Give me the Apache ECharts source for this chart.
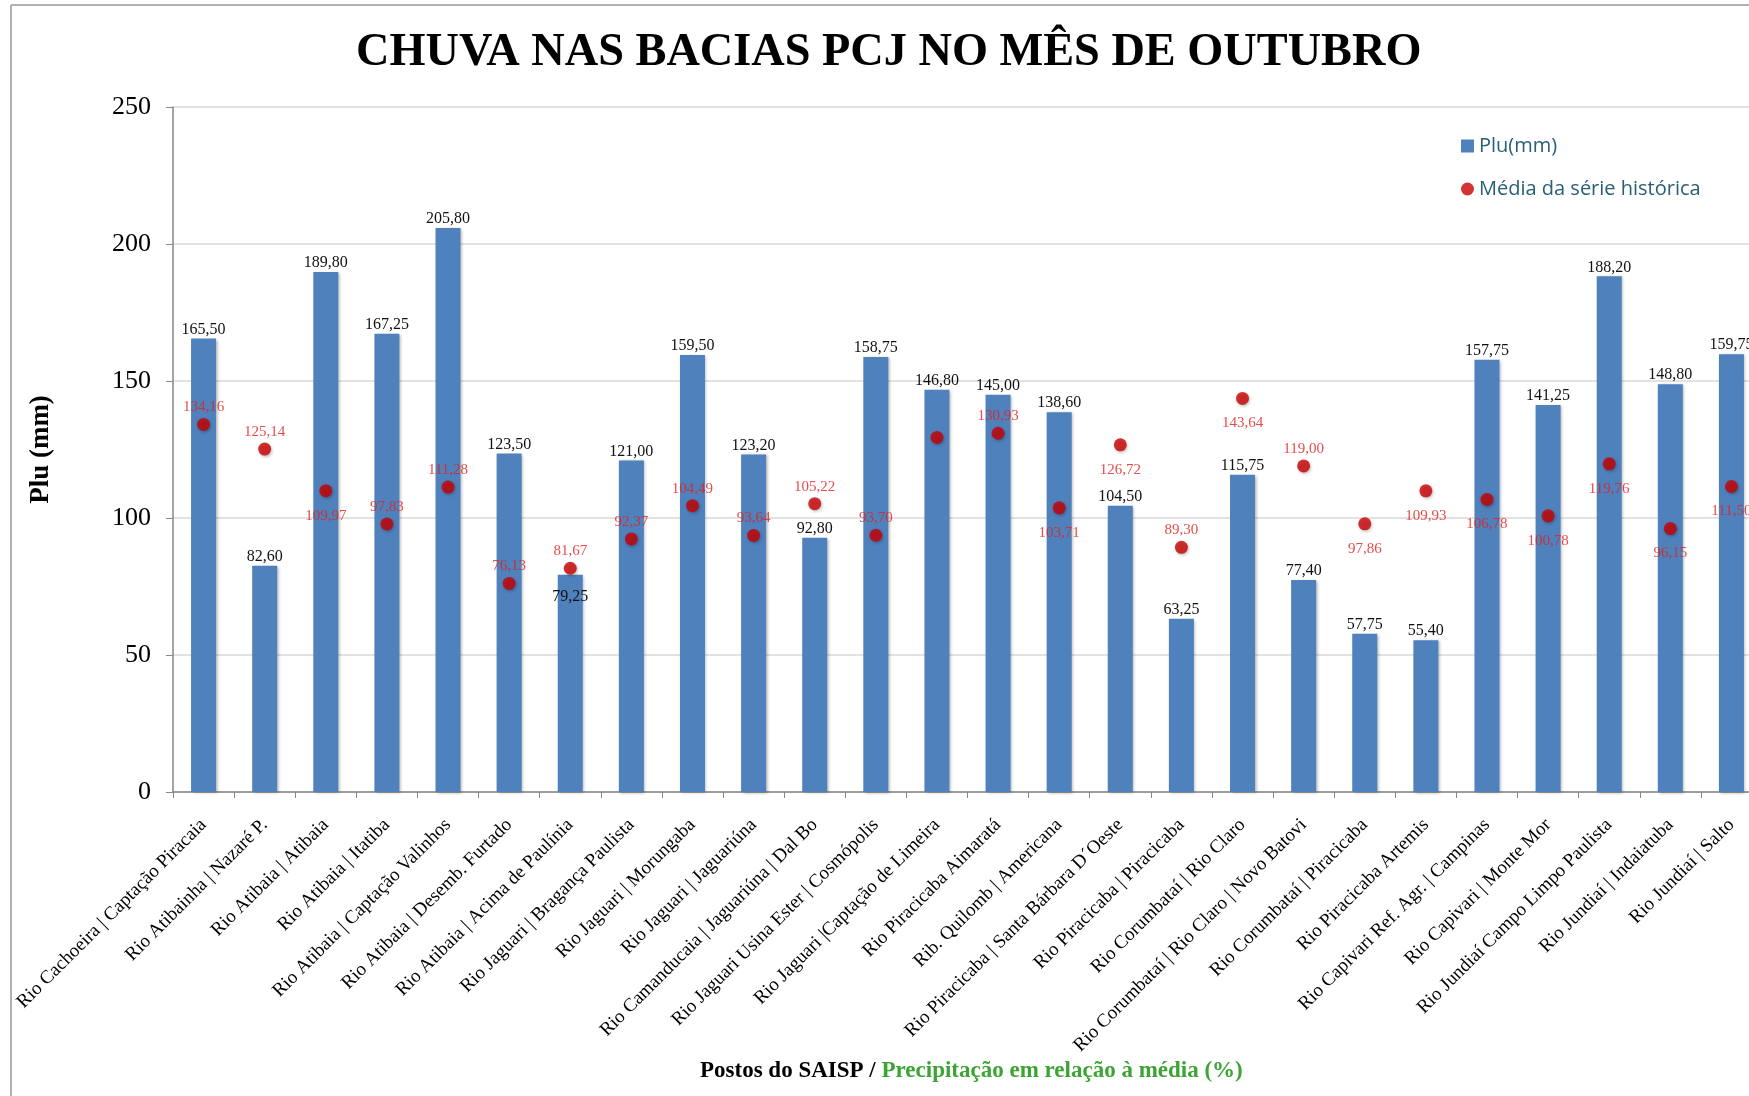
<!DOCTYPE html>
<html>
<head>
<meta charset="utf-8">
<title>Chuva nas bacias PCJ</title>
<script src="https://cdn.jsdelivr.net/npm/echarts@6/dist/echarts.min.js"></script>
<style>
  html, body { margin: 0; padding: 0; background: #fff; overflow: hidden; }
  /* o grafico original e cortado a direita, por isso o div passa da janela */
  #chart { width: 1800px; height: 1096px; }
</style>
</head>
<body>
<div id="chart"></div>
<script>
// postos do SAISP
const categories = [
  'Rio Cachoeira | Captação Piracaia',
  'Rio Atibainha | Nazaré P.',
  'Rio Atibaia | Atibaia',
  'Rio Atibaia | Itatiba',
  'Rio Atibaia | Captação Valinhos',
  'Rio Atibaia | Desemb. Furtado',
  'Rio Atibaia | Acima de Paulínia',
  'Rio Jaguari | Bragança Paulista',
  'Rio Jaguari | Morungaba',
  'Rio Jaguari | Jaguariúna',
  'Rio Camanducaia | Jaguariúna | Dal Bo',
  'Rio Jaguari Usina Ester | Cosmópolis',
  'Rio Jaguari |Captação de Limeira',
  'Rio Piracicaba Aimaratá',
  'Rib. Quilomb | Americana',
  'Rio Piracicaba | Santa Bárbara D´Oeste',
  'Rio Piracicaba | Piracicaba',
  'Rio Corumbataí | Rio Claro',
  'Rio Corumbataí | Rio Claro | Novo Batovi',
  'Rio Corumbataí | Piracicaba',
  'Rio Piracicaba Artemis',
  'Rio Capivari Ref. Agr. | Campinas',
  'Rio Capivari | Monte Mor',
  'Rio Jundiaí Campo Limpo Paulista',
  'Rio Jundiaí | Indaiatuba',
  'Rio Jundiaí | Salto'
]

// chuva do mes (mm)
const pluValues = [
  165.50, 82.60, 189.80, 167.25, 205.80, 123.50, 79.25, 121.00, 159.50, 123.20,
  92.80, 158.75, 146.80, 145.00, 138.60, 104.50, 63.25, 115.75, 77.40, 57.75,
  55.40, 157.75, 141.25, 188.20, 148.80, 159.75
]

// media da serie historica (mm) - posto 13 sem rotulo no original
const mediaValues = [
  134.16, 125.14, 109.97, 97.83, 111.28, 76.13, 81.67, 92.37, 104.49, 93.64,
  105.22, 93.70, 129.40, 130.93, 103.71, 126.72, 89.30, 143.64, 119.00, 97.86,
  109.93, 106.78, 100.78, 119.76, 96.15, 111.50
]

const yTicks = [0, 50, 100, 150, 200, 250]

// onde fica o rotulo vermelho de cada ponto
const mediaLabelPos = [
  'top', 'top', 'bottom', 'top', 'top', 'top', 'top', 'top', 'top', 'top',
  'top', 'top', null, 'top', 'bottom', 'bottom', 'top', 'bottom', 'top', 'bottom',
  'bottom', 'bottom', 'bottom', 'bottom', 'bottom', 'bottom'
]

const serif = '"Liberation Serif", "Times New Roman", serif'
const fmt = v => v.toFixed(2).replace('.', ',')

const chart = echarts.init(document.getElementById('chart'))

const barData = pluValues.map((v, i) => {
  // rotulo de 79,25 fica dentro da barra para nao bater no ponto
  if (i === 6) {
    return { value: v, label: { position: 'insideTop', distance: 14 } }
  }
  return v
})

const mediaData = mediaValues.map((v, i) => {
  const pos = mediaLabelPos[i]
  if (!pos) return { value: v, label: { show: false } }
  return { value: v, label: { position: pos, distance: pos === 'top' ? 3 : 11 } }
})

chart.setOption({
  animation: false,
  title: [
    {
      text: 'CHUVA NAS BACIAS PCJ NO MÊS DE OUTUBRO',
      left: 351,
      top: 25,
      textStyle: { fontFamily: serif, fontWeight: 'bold', fontSize: 46.3, color: '#000' }
    },
    {
      text: '{a|Postos do SAISP / }{b|Precipitação em relação à média (%)}',
      left: 695,
      top: 1055,
      textStyle: {
        rich: {
          a: { fontFamily: serif, fontWeight: 'bold', fontSize: 23, color: '#000' },
          b: { fontFamily: serif, fontWeight: 'bold', fontSize: 23, color: '#3ca334' }
        }
      }
    }
  ],
  legend: {
    orient: 'vertical',
    left: 1456,
    top: 131,
    itemWidth: 13,
    itemHeight: 13,
    itemGap: 23,
    textStyle: { fontFamily: '"Open Sans"', fontSize: 20, color: '#275f74' },
    data: [
      { name: 'Plu(mm)', icon: 'rect' },
      { name: 'Média da série histórica', icon: 'circle' }
    ]
  },
  graphic: [
    { type: 'line', shape: { x1: 11, y1: 5, x2: 11, y2: 1096 }, style: { stroke: '#999', lineWidth: 1.5 } },
    { type: 'line', shape: { x1: 11, y1: 5, x2: 1800, y2: 5 }, style: { stroke: '#999', lineWidth: 1.5 } }
  ],
  grid: {
    left: 173,
    top: 107,
    width: 1589,
    height: 685
  },
  xAxis: {
    type: 'category',
    data: categories,
    axisLine: { lineStyle: { color: '#868686', width: 1.5 } },
    axisTick: { show: true, length: 6, lineStyle: { color: '#868686' } },
    axisLabel: {
      interval: 0,
      rotate: 45,
      margin: 30,
      fontFamily: serif,
      fontSize: 19,
      color: '#000'
    }
  },
  yAxis: {
    type: 'value',
    min: yTicks[0],
    max: yTicks[yTicks.length - 1],
    interval: 50,
    name: 'Plu (mm)',
    nameLocation: 'middle',
    nameGap: 118,
    nameTextStyle: { fontFamily: serif, fontWeight: 'bold', fontSize: 27, color: '#000' },
    axisLine: { show: true, lineStyle: { color: '#868686', width: 1.5 } },
    axisTick: { show: true, length: 7, lineStyle: { color: '#868686' } },
    axisLabel: { margin: 22, fontFamily: serif, fontSize: 26, color: '#000' },
    splitLine: { lineStyle: { color: '#d9d9d9', width: 1.5 } }
  },
  series: [
    {
      name: 'Plu(mm)',
      type: 'bar',
      data: barData,
      barWidth: 25,
      itemStyle: {
        color: '#4f81bd',
        shadowColor: 'rgba(0,0,0,0.3)',
        shadowBlur: 3,
        shadowOffsetX: 1.5,
        shadowOffsetY: 1
      },
      label: {
        show: true,
        position: 'top',
        distance: 1,
        fontFamily: serif,
        fontSize: 16,
        color: '#111',
        formatter: p => fmt(p.value)
      }
    },
    {
      name: 'Média da série histórica',
      type: 'scatter',
      data: mediaData,
      symbol: 'circle',
      symbolSize: 13,
      z: 5,
      itemStyle: {
        color: '#c80000',
        shadowColor: 'rgba(0,0,0,0.3)',
        shadowBlur: 3,
        shadowOffsetX: 1,
        shadowOffsetY: 1.5
      },
      label: {
        show: true,
        fontFamily: serif,
        fontSize: 15,
        color: '#e0201c',
        formatter: p => fmt(p.value)
      }
    }
  ]
})
</script>
</body>
</html>
